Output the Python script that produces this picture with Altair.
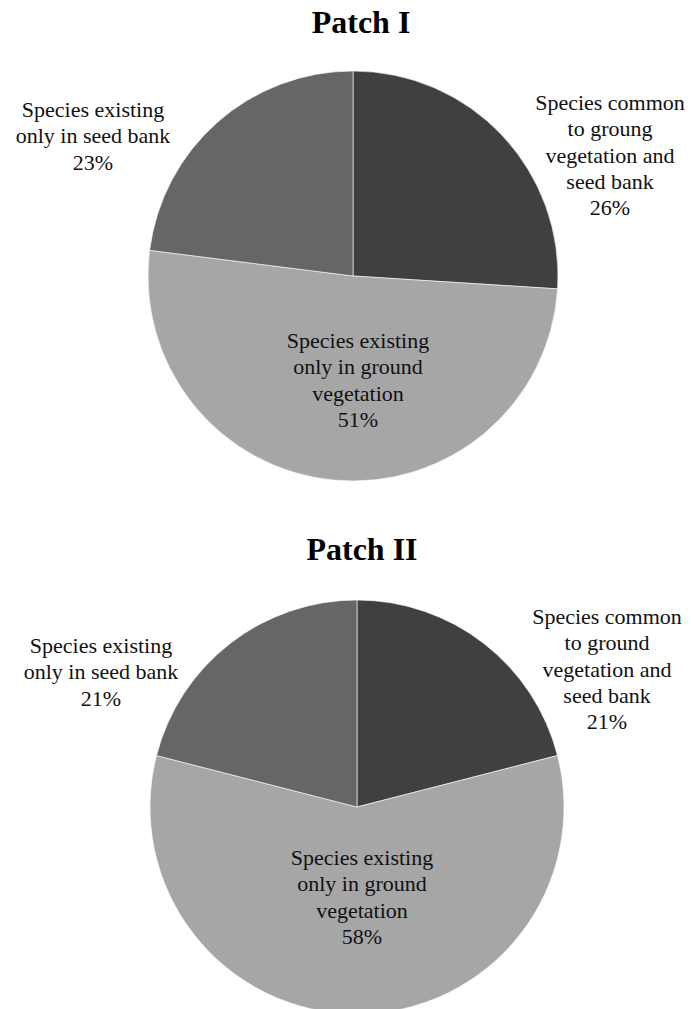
import altair as alt
import pandas as pd

# Species groups, in clockwise order from 12 o'clock
categories = [
    "common",
    "ground_only",
    "seed_bank_only",
]
slice_colors = ["#404040", "#a6a6a6", "#666666"]

patch_titles = ["Patch I", "Patch II"]
patch1_pct = [26, 51, 23]
patch2_pct = [21, 58, 21]

patch1_text = [
    "Species common\nto groung\nvegetation and\nseed bank",
    "Species existing\nonly in ground\nvegetation",
    "Species existing\nonly in seed bank",
]
patch2_text = [
    "Species common\nto ground\nvegetation and\nseed bank",
    "Species existing\nonly in ground\nvegetation",
    "Species existing\nonly in seed bank",
]

SERIF = "Liberation Serif"
W, H = 691, 1009


def make_frame(pcts, texts):
    return pd.DataFrame({
        "category": categories,
        "pct": pcts,
        "order": list(range(len(categories))),
        "label": [f"{t}\n{p}%" for t, p in zip(texts, pcts)],
    })


def pie_panel(df, title, center, radius, title_pos, label_pos):
    cx, cy = center
    base = alt.Chart(df)
    arcs = base.mark_arc(radius=radius, stroke="#ffffff", strokeWidth=0.6).encode(
        theta=alt.Theta("pct:Q", stack=True),
        order=alt.Order("order:O"),
        color=alt.Color(
            "category:N",
            scale=alt.Scale(domain=categories, range=slice_colors),
            legend=None,
        ),
        x=alt.value(cx),
        y=alt.value(cy),
    )
    layers = [arcs]
    for cat, (lx, ly) in zip(categories, label_pos):
        layers.append(
            base.transform_filter(alt.datum.category == cat)
            .mark_text(
                font=SERIF, fontSize=22, color="#111111", align="center",
                baseline="alphabetic", lineBreak="\n", lineHeight=26.3,
            )
            .encode(text="label:N", x=alt.value(lx), y=alt.value(ly))
        )
    tx, ty = title_pos
    layers.append(
        alt.Chart(pd.DataFrame({"t": [title]}))
        .mark_text(font=SERIF, fontSize=32, fontWeight="bold", color="#000000",
                   align="center", baseline="alphabetic")
        .encode(text="t:N", x=alt.value(tx), y=alt.value(ty))
    )
    return layers


df1 = make_frame(patch1_pct, patch1_text)
df2 = make_frame(patch2_pct, patch2_text)

layers = []
layers += pie_panel(
    df1, patch_titles[0], center=(353, 276), radius=205, title_pos=(361, 33),
    label_pos=[(610, 110), (358, 348), (93, 117)],
)
layers += pie_panel(
    df2, patch_titles[1], center=(357, 807), radius=207, title_pos=(362, 560),
    label_pos=[(607, 624), (362, 865), (101, 653)],
)

chart = (
    alt.layer(*layers)
    .resolve_scale(theta="independent")
    .properties(width=W, height=H, autosize="none", padding=0, background="#ffffff")
    .configure_view(stroke=None)
)

chart.save("out.html", embed_options={"renderer": "svg", "actions": False})
